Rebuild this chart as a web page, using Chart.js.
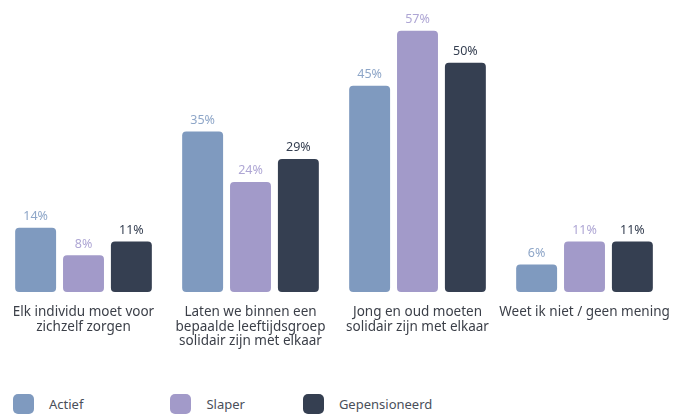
<!DOCTYPE html>
<html>
<head>
<meta charset="utf-8">
<script src="https://cdn.jsdelivr.net/npm/chart.js@4"></script>
<style>
  body { margin: 0; background: #fff; font-family: "Noto Sans", sans-serif; }
  #wrap { position: relative; width: 680px; height: 415px; }
  #legend { position: absolute; left: 13px; top: 394px; display: flex; }
  .item { display: flex; align-items: center; font-size: 13px; color: #4a4f5a; }
  .item span.box { width: 21px; height: 20px; border-radius: 5px; margin-right: 15px; }
</style>
</head>
<body>
<div id="wrap">
  <canvas id="chart" width="680" height="380"></canvas>
  <div id="legend"></div>
</div>
<script>
// categorieën en waarden
const categories = [
  ['Elk individu moet voor', 'zichzelf zorgen'],
  ['Laten we binnen een', 'bepaalde leeftijdsgroep', 'solidair zijn met elkaar'],
  ['Jong en oud moeten', 'solidair zijn met elkaar'],
  'Weet ik niet / geen mening'
];
const seriesNames = ['Actief', 'Slaper', 'Gepensioneerd'];
const actief = [14, 35, 45, 6];
const slaper = [8, 24, 57, 11];
const gepensioneerd = [11, 29, 50, 11];

const barColors = ['#7f9abf', '#a29ac9', '#353f51'];
const labelColors = ['#8ea6c8', '#aea6d4', '#353f51'];

// labels boven de balken
const valueLabels = {
  id: 'valueLabels',
  afterDatasetsDraw(chart) {
    const ctx = chart.ctx;
    ctx.save();
    ctx.font = '12.5px "Noto Sans"';
    ctx.textAlign = 'center';
    ctx.textBaseline = 'bottom';
    chart.data.datasets.forEach((ds, i) => {
      ctx.fillStyle = labelColors[i];
      chart.getDatasetMeta(i).data.forEach((bar, j) => {
        ctx.fillText(ds.data[j] + '%', bar.x, bar.y - 5);
      });
    });
    ctx.restore();
  }
};

const ctx = document.getElementById('chart').getContext('2d');
new Chart(ctx, {
  type: 'bar',
  data: {
    labels: categories,
    datasets: [actief, slaper, gepensioneerd].map((d, i) => ({
      label: seriesNames[i],
      data: d,
      backgroundColor: barColors[i],
      borderRadius: 4,
      borderSkipped: false,
      categoryPercentage: 0.86,
      barPercentage: 0.855
    }))
  },
  options: {
    responsive: false,
    animation: false,
    layout: { padding: { top: 17, right: 12, left: 0, bottom: 0 } },
    plugins: { legend: { display: false }, tooltip: { enabled: false } },
    scales: {
      x: {
        grid: { display: false, drawTicks: false },
        border: { display: false },
        ticks: {
          padding: 13,
          color: '#3b3f48',
          font: { family: 'Noto Sans', size: 13.5, lineHeight: 1.075 },
          maxRotation: 0,
          autoSkip: false
        },
        afterFit(scale) {
          scale.height = 88;
          scale.paddingLeft = 0;
          scale.paddingRight = 0;
        }
      },
      y: { display: false, min: 0, max: 60 }
    }
  },
  plugins: [valueLabels]
});

// legenda
const legend = document.getElementById('legend');
const gaps = [87, 58, 0];
seriesNames.forEach((name, i) => {
  const el = document.createElement('div');
  el.className = 'item';
  el.style.marginRight = gaps[i] + 'px';
  el.innerHTML = '<span class="box" style="background:' + barColors[i] + '"></span>' + name;
  legend.appendChild(el);
});
</script>
</body>
</html>
